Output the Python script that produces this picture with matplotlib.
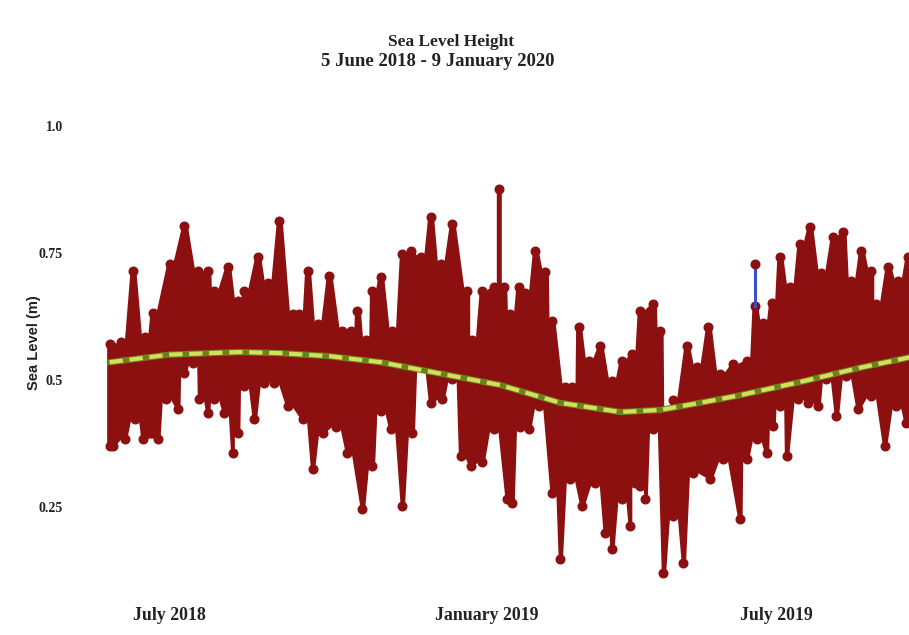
import numpy as np
import matplotlib
matplotlib.use("Agg")
import matplotlib.pyplot as plt

# Days since 5 June 2018 and sea level (m)
upper_days = [1, 3, 8, 15, 22, 27, 37, 46, 54, 60, 64, 72, 78, 82, 90, 96, 103, 111, 115, 120,
              126, 133, 141, 146, 150, 155, 159, 164, 171, 177, 182, 188, 194, 200, 207, 216,
              219, 225, 232, 235, 238, 242, 247, 251, 257, 263, 267, 275, 279, 283, 289, 296,
              303, 309, 315, 320, 328, 332, 336, 340, 348, 354, 361, 368, 376, 384, 389, 394,
              399, 404, 410, 416, 422, 429, 436, 442, 447, 453, 459, 462, 469, 475, 481, 484]
upper_vals = [0.57, 0.565, 0.575, 0.715, 0.585, 0.632, 0.728, 0.803, 0.715, 0.715, 0.676,
              0.723, 0.656, 0.676, 0.743, 0.690, 0.813, 0.630, 0.630, 0.715, 0.610, 0.705,
              0.596, 0.596, 0.636, 0.578, 0.676, 0.703, 0.596, 0.748, 0.754, 0.743, 0.821,
              0.728, 0.807, 0.676, 0.578, 0.676, 0.683, 0.876, 0.683, 0.630, 0.683, 0.672,
              0.754, 0.713, 0.616, 0.487, 0.487, 0.604, 0.538, 0.566, 0.498, 0.538, 0.552,
              0.636, 0.650, 0.596, 0.434, 0.460, 0.566, 0.526, 0.604, 0.512, 0.532, 0.538,
              0.645, 0.612, 0.652, 0.743, 0.683, 0.768, 0.801, 0.710, 0.781, 0.792, 0.695,
              0.754, 0.715, 0.650, 0.723, 0.695, 0.743, 0.743]
lower_days = [1, 3, 10, 16, 21, 30, 35, 42, 46, 51, 55, 60, 64, 70, 75, 78, 82, 88, 94, 100,
              108, 117, 123, 129, 137, 144, 153, 159, 164, 170, 177, 183, 188, 194, 201, 207,
              212, 218, 225, 232, 240, 243, 248, 253, 259, 267, 272, 278, 285, 293, 299, 303,
              309, 314, 317, 320, 323, 328, 334, 340, 346, 352, 362, 370, 380, 384, 390, 396,
              400, 404, 408, 415, 421, 427, 432, 438, 444, 451, 459, 467, 474, 480, 484]
lower_vals = [0.37, 0.37, 0.384, 0.423, 0.384, 0.384, 0.463, 0.443, 0.514, 0.534, 0.463,
              0.435, 0.463, 0.435, 0.356, 0.396, 0.488, 0.423, 0.494, 0.494, 0.449, 0.423,
              0.325, 0.396, 0.408, 0.356, 0.246, 0.331, 0.438, 0.404, 0.252, 0.396, 0.528,
              0.455, 0.463, 0.502, 0.351, 0.331, 0.338, 0.404, 0.266, 0.258, 0.408, 0.404,
              0.449, 0.278, 0.148, 0.305, 0.252, 0.297, 0.199, 0.167, 0.266, 0.213, 0.297,
              0.291, 0.266, 0.404, 0.120, 0.232, 0.140, 0.317, 0.305, 0.345, 0.226, 0.345,
              0.384, 0.356, 0.410, 0.449, 0.351, 0.463, 0.455, 0.449, 0.502, 0.429, 0.508,
              0.443, 0.469, 0.370, 0.449, 0.415, 0.415]
spike_days = [389, 389]
spike_vals = [0.645, 0.728]

trend_days = [1, 37, 79, 103, 133, 164, 188, 212, 236, 272, 308, 332, 356, 380, 416, 452, 484]
trend_vals = [0.535, 0.550, 0.555, 0.553, 0.547, 0.535, 0.520, 0.505, 0.490, 0.455, 0.437,
              0.441, 0.455, 0.470, 0.496, 0.524, 0.546]

y_ticks = [0.25, 0.5, 0.75, 1.0]
y_tick_labels = ["0.25", "0.5", "0.75", "1.0"]
x_tick_days = [37, 228, 402]
x_tick_labels = ["July 2018", "January 2019", "July 2019"]

RED = "#8c1010"
BLUE = "#3a4fd0"
HALF = 1.8  # max half-width (days) of the flat top drawn at each extreme


def widen(days, vals):
    d = np.asarray(days, float)
    v = np.asarray(vals, float)
    gaps = np.diff(d)
    left = np.minimum(HALF, np.concatenate([[HALF], gaps / 2]))
    right = np.minimum(HALF, np.concatenate([gaps / 2, [HALF]]))
    return np.column_stack([d - left, d + right]).ravel(), np.repeat(v, 2)


fig = plt.figure(figsize=(9.09, 6.35), dpi=100)
ax = fig.add_axes([70 / 909, 1 - 590 / 635, 839 / 909, 480 / 635])
ybot = (634 - 590) / 508

ux, uy = widen(upper_days, upper_vals)
lx, ly = widen(lower_days, lower_vals)
# band: red up to the high envelope, then cleared below the low envelope
ax.fill_between(ux, ybot - 0.2, uy, color=RED, lw=0, zorder=2)
ax.fill_between(lx, ybot - 0.2, ly, facecolor="white", edgecolor="white", lw=1.2, zorder=2.5)
ax.plot(upper_days, upper_vals, "o", color=RED, ms=6.2, zorder=3)
ax.plot(lower_days, lower_vals, "o", color=RED, ms=6.2, zorder=3)

# blue connecting segment at the isolated spike
ax.plot(spike_days, spike_vals, color=BLUE, lw=2.2, zorder=3.5)
ax.plot(spike_days[1:], spike_vals[1:], "o", color=RED, ms=6.2, zorder=3.6)

# trend line
ax.plot(trend_days, trend_vals, color="#6e7f1e", lw=4.5, solid_capstyle="round", zorder=4)
ax.plot(trend_days, trend_vals, color="#d3e05c", lw=3.0, dashes=(3.2, 1.6), zorder=5)

xmin = (70 - 108) / 1.663
ax.set_xlim(xmin, xmin + 839 / 1.663)
ax.set_ylim(ybot, (634 - 110) / 508)

for s in ax.spines.values():
    s.set_visible(False)
ax.tick_params(length=0)
ax.set_yticks(y_ticks)
ax.set_yticklabels(y_tick_labels, fontfamily="Liberation Serif", fontweight="bold",
                   fontsize=10, color="#222222")
ax.set_xticks(x_tick_days)
ax.set_xticklabels(x_tick_labels, fontfamily="Liberation Serif", fontweight="bold",
                   fontsize=12.8, color="#222222")
ax.tick_params(axis="y", pad=5)
ax.tick_params(axis="x", pad=12)

ax.set_ylabel("Sea Level (m)", fontfamily="Liberation Sans", fontweight="bold",
              fontsize=10.5, color="#222222")
ax.yaxis.set_label_coords((41 - 70) / 839, (590 - 343) / 480)

fig.text(451 / 909, 1 - 42 / 635, "Sea Level Height", ha="center", va="center",
         fontfamily="Liberation Serif", fontweight="bold", fontsize=12.5, color="#222222")
fig.text(438 / 909, 1 - 62 / 635, "5 June 2018 - 9 January 2020", ha="center", va="center",
         fontfamily="Liberation Serif", fontweight="bold", fontsize=13.5, color="#222222")

fig.savefig("out.png", dpi=100)
